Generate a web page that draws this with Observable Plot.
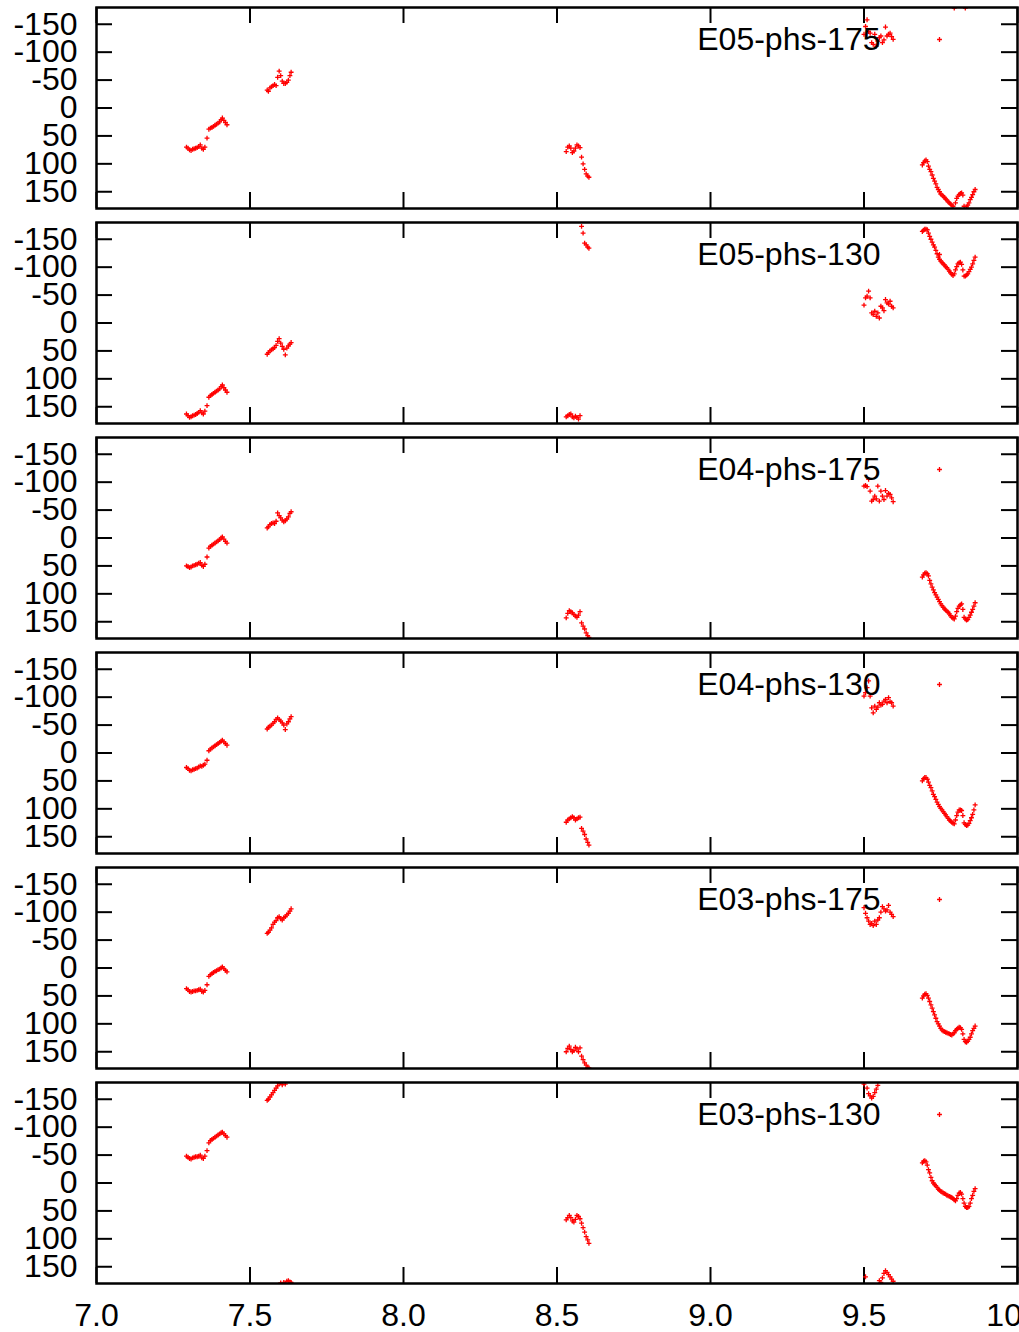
<!DOCTYPE html>
<html><head><meta charset="utf-8">
<script src="https://cdn.jsdelivr.net/npm/d3@7"></script>
<script src="https://cdn.jsdelivr.net/npm/@observablehq/plot@0.6"></script>
<style>
html,body{margin:0;padding:0;background:#fff;overflow:hidden;}
#chart svg{display:block;overflow:visible;}
</style></head><body><div id="chart"></div>
<script>
// Frequency samples (GHz), grouped by the clusters seen in the picture
const freqA = [7.293,7.298,7.303,7.308,7.313,7.318,7.323,7.328,7.333,7.338,7.343,7.348,7.353,7.360,7.366,7.371,7.376,7.381,7.386,7.391,7.396,7.401,7.406,7.410,7.415,7.420,7.425];
const freqB = [7.556,7.560,7.565,7.570,7.575,7.580,7.585,7.590,7.595,7.600,7.605,7.610,7.615,7.620,7.625,7.630,7.634];
const freqC = [8.530,8.535,8.540,8.545,8.550,8.555,8.560,8.565,8.570,8.575,8.580,8.585,8.590,8.595,8.600,8.604];
const freqD = [9.500,9.505,9.510,9.515,9.520,9.525,9.530,9.535,9.540,9.545,9.550,9.555,9.560,9.565,9.570,9.575,9.580,9.585,9.590,9.595];
const freqE = [9.690,9.694,9.698,9.702,9.706,9.710,9.714,9.718,9.722,9.726,9.730,9.734,9.738,9.742,9.746,9.750,9.754,9.758,9.762,9.766,9.770,9.774,9.778,9.782,9.786,9.790,9.794,9.798,9.802,9.806,9.810,9.814,9.818,9.822,9.826,9.830,9.834,9.838,9.842,9.846,9.850,9.854,9.858,9.862];
const freq = [...freqA, ...freqB, ...freqC, ...freqD, ...freqE];

// Phase (degrees) per panel, same order as freq
const phaseE05_175 = [
  70,72,75,76,74,73,72,71,69,66,72,74,70,54,38,36,35,33,31,29,27,25,21,18,22,26,30,
  -32,-30,-36,-38,-40,-42,-40,-55,-66,-58,-48,-44,-44,-46,-50,-58,-64,
  78,70,68,72,80,77,72,66,68,71,88,100,110,118,122,124,
  -132,-146,-158,-137,-134,-117,-114,-132,-111,-120,-126,-129,-117,-122,-145,-129,-132,-134,-128,-123,
  102,98,95,93,96,104,110,114,120,126,131,136,142,146,150,154,156,158,160,163,165,168,170,172,174,176,-179,170,162,158,155,153,152,156,176,-179,177,174,170,164,160,155,150,146
];
const phaseE05_130 = [
  163,166,169,168,166,165,164,162,160,157,161,163,158,148,133,130,128,126,124,122,120,118,114,111,116,120,124,
  56,53,50,48,46,44,40,33,28,36,42,47,57,45,41,38,35,
  168,166,164,163,168,170,167,169,172,166,-173,-161,-143,-140,-136,-134,
  -32,-45,-48,-57,-45,-18,-15,-21,-12,-18,-9,-30,-27,-22,-42,-36,-34,-39,-30,-27,
  -164,-166,-168,-168,-167,-161,-155,-150,-145,-140,-136,-130,-124,-118,-114,-111,-108,-106,-104,-101,-99,-96,-93,-90,-87,-85,-88,-95,-101,-106,-108,-109,-105,-95,-84,-84,-86,-88,-92,-96,-100,-106,-112,-118
];
const phaseE04_175 = [
  50,51,53,52,50,49,48,47,45,44,49,51,47,34,18,15,13,11,9,7,5,3,0,-2,2,6,9,
  -18,-20,-24,-26,-27,-26,-30,-45,-40,-36,-32,-29,-31,-34,-38,-44,-47,
  143,135,130,132,134,137,140,142,138,132,152,158,163,170,175,178,
  -93,-94,-92,-105,-84,-66,-69,-75,-70,-93,-66,-84,-75,-69,-85,-75,-80,-78,-72,-65,
  70,66,63,62,64,68,76,82,88,93,98,102,106,110,114,118,121,124,127,129,131,133,136,139,142,144,145,140,132,126,122,120,118,128,142,145,147,146,142,138,133,128,122,116
];
const phaseE04_130 = [
  26,28,31,32,30,29,28,27,25,23,24,22,20,13,-4,-7,-9,-11,-13,-15,-17,-19,-21,-23,-20,-17,-14,
  -43,-46,-48,-50,-53,-56,-60,-63,-60,-57,-54,-50,-42,-52,-56,-61,-65,
  124,120,118,116,114,116,120,118,116,115,135,140,146,154,160,165,
  -102,-108,-117,-129,-102,-81,-72,-84,-78,-82,-90,-86,-87,-93,-96,-90,-99,-92,-90,-84,
  50,46,44,44,47,52,58,62,68,74,78,83,88,92,96,99,102,105,108,111,114,117,120,122,124,126,127,120,112,106,102,102,103,112,125,128,130,129,126,121,116,110,102,93
];
const phaseE03_175 = [
  37,39,42,43,42,41,41,40,39,38,42,43,40,30,15,12,10,8,6,5,3,2,0,-2,1,4,7,
  -62,-64,-68,-72,-78,-82,-85,-90,-92,-88,-86,-90,-92,-95,-98,-102,-106,
  150,144,140,146,150,148,142,145,150,143,158,164,170,174,178,179,
  -108,-98,-90,-84,-78,-80,-76,-84,-78,-86,-90,-100,-110,-106,-102,-104,-112,-100,-96,-92,
  54,50,47,46,49,54,60,66,72,78,84,90,96,100,104,108,111,113,114,115,116,117,118,119,120,118,116,112,110,108,106,107,110,118,128,132,133,131,128,124,118,112,108,104
];
const phaseE03_130 = [
  -48,-46,-44,-43,-45,-46,-47,-47,-48,-50,-45,-44,-48,-58,-72,-76,-78,-80,-82,-84,-86,-88,-90,-91,-88,-85,-82,
  -148,-150,-154,-158,-162,-166,-170,-174,-178,179,-176,178,-177,176,175,177,178,
  66,62,58,62,68,70,65,58,60,64,72,80,88,96,102,108,
  -177,168,-170,-160,-156,-152,-155,-162,-168,-175,175,178,170,162,157,160,164,168,172,176,
  -36,-39,-40,-38,-32,-24,-18,-10,-4,0,3,5,8,11,13,15,16,18,19,20,22,23,24,25,26,28,30,32,28,22,18,17,20,28,36,42,44,44,42,36,28,22,15,10
];

const panelLabels = ["E05-phs-175","E05-phs-130","E04-phs-175","E04-phs-130","E03-phs-175","E03-phs-130"];
const panelPhases = [phaseE05_175, phaseE05_130, phaseE04_175, phaseE04_130, phaseE03_175, phaseE03_130];
const xTicks = [7.0,7.5,8.0,8.5,9.0,9.5,10.0];
const yTicks = [-150,-100,-50,0,50,100,150];

const FONT = "'Liberation Sans', Arial, Helvetica, sans-serif";
const FS = 32;
const chart = document.getElementById("chart");

panelLabels.forEach((label, k) => {
  const last = k === panelLabels.length - 1;
  const phase = panelPhases[k];
  const pts = freq.map((f, i) => ({f, p: phase[i]})).filter(d => d.p != null);
  const height = last ? 257 : 215;
  const mT = 7, mB = last ? 49 : 7, mL = 96, mR = 2;
  const fh = height - mT - mB, fw = 1019 - mL - mR, tl = 16;
  const svg = Plot.plot({
    width: 1019, height,
    marginTop: mT, marginBottom: mB, marginLeft: mL, marginRight: mR,
    style: {fontFamily: FONT, fontSize: FS + "px", background: "#fff", color: "#000"},
    x: {domain: [7, 10]},
    y: {domain: [-180, 180], reverse: true},
    marks: [
      Plot.tickX(xTicks, {x: d => d, insetTop: fh - tl, stroke: "#000", strokeWidth: 2}),
      Plot.tickX(xTicks, {x: d => d, insetBottom: fh - tl, stroke: "#000", strokeWidth: 2}),
      Plot.tickY(yTicks, {y: d => d, insetRight: fw - tl, stroke: "#000", strokeWidth: 2}),
      Plot.tickY(yTicks, {y: d => d, insetLeft: fw - tl, stroke: "#000", strokeWidth: 2}),
      Plot.axisY(yTicks, {anchor: "left", tickSize: 0, tickPadding: 19, tickFormat: d => String(d), fontSize: FS, label: null}),
      last ? Plot.axisX(xTicks, {anchor: "bottom", tickSize: 0, tickPadding: 20, tickFormat: d3.format(".1f"), fontSize: FS, label: null}) : Plot.axisX({ticks: [], label: null}),
      Plot.dot(pts, {x: "f", y: "p", symbol: "plus", r: 1.7, stroke: "red", strokeWidth: 1.3, clip: true}),
      Plot.text([label], {frameAnchor: "top-right", dx: -137, dy: 32, textAnchor: "end", lineAnchor: "middle", fontSize: FS, fill: "#000"}),
      Plot.dot([label], {x: null, y: null, frameAnchor: "top-right", dx: -78, dy: 32, symbol: "plus", r: 1.7, stroke: "red", strokeWidth: 1.3}),
      Plot.frame({stroke: "#000", strokeWidth: 2.5})
    ]
  });
  chart.appendChild(svg);
});
</script>
</body></html>
